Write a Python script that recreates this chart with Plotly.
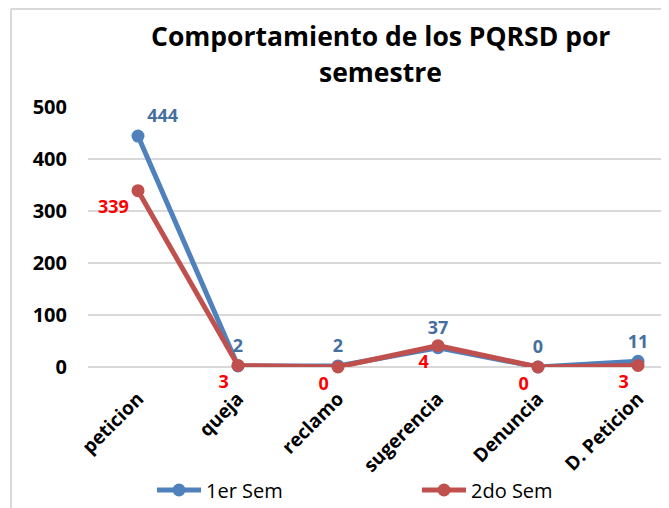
import plotly.graph_objects as go

categories = ["peticion", "queja", "reclamo", "sugerencia", "Denuncia", "D. Peticion"]
sem1_values = [444, 2, 2, 37, 0, 11]
sem2_values = [339, 3, 0, 41, 0, 3]
sem2_labels = ["339", "3", "0", "4", "0", "3"]
y_ticks = [0, 100, 200, 300, 400, 500]

BLUE = "#4F81BD"
RED = "#C0504D"
FONT = "Open Sans"

OFF = 8  # page body margin
W, H = 669 - OFF, 508 - OFF
L, R, T, B = 88 - OFF, 0, 107 - OFF, 141
pw, ph = W - L - R, H - T - B

def px_x(x):
    return (x - OFF - L) / pw

def px_y(y):
    return (H - B - (y - OFF)) / ph

fig = go.Figure()
fig.add_trace(go.Scatter(
    x=categories, y=sem1_values, name="1er Sem", mode="lines+markers+text",
    line=dict(color=BLUE, width=5), marker=dict(size=13, color=BLUE),
    text=[str(v) for v in sem1_values],
    textposition=["top right", "top center", "top center", "top center", "top center", "top center"],
    textfont=dict(family=FONT, size=18, color="#44709F", weight="bold"),
    cliponaxis=False, legend="legend",
))
fig.add_trace(go.Scatter(
    x=categories, y=sem2_values, name="2do Sem", mode="lines+markers+text",
    line=dict(color=RED, width=5), marker=dict(size=13, color=RED),
    text=sem2_labels,
    textposition="bottom left",
    textfont=dict(family=FONT, size=18, color="#FF0000", weight="bold"),
    cliponaxis=False, legend="legend2",
))

leg_common = dict(
    orientation="h", yanchor="middle", xanchor="left", itemwidth=44,
    font=dict(family=FONT, size=20, color="black"),
    bgcolor="rgba(0,0,0,0)",
)

fig.update_layout(
    width=W, height=H,
    margin=dict(l=L, r=R, t=T, b=B, autoexpand=False),
    paper_bgcolor="white", plot_bgcolor="white",
    font=dict(family=FONT, color="black"),
    showlegend=True,
    legend=dict(x=px_x(152), y=px_y(490), **leg_common),
    legend2=dict(x=px_x(417), y=px_y(490), **leg_common),
    annotations=[
        dict(text="<b>Comportamiento de los PQRSD por</b>", x=px_x(380), y=px_y(36),
             xref="paper", yref="paper", showarrow=False, xanchor="center", yanchor="middle",
             font=dict(family=FONT, size=26.5, color="black")),
        dict(text="<b>semestre</b>", x=px_x(380), y=px_y(72),
             xref="paper", yref="paper", showarrow=False, xanchor="center", yanchor="middle",
             font=dict(family=FONT, size=26.5, color="black")),
    ],
    shapes=[
        dict(type="line", xref="paper", yref="paper", x0=px_x(11), x1=px_x(669), y0=px_y(9), y1=px_y(9),
             line=dict(color="#D9D9D9", width=2)),
        dict(type="line", xref="paper", yref="paper", x0=px_x(11), x1=px_x(11), y0=px_y(9), y1=px_y(508),
             line=dict(color="#D9D9D9", width=2)),
    ],
)

fig.update_xaxes(
    type="category", range=[-0.5, 5.31], tickangle=-45, showgrid=False, showline=False,
    ticks="", tickfont=dict(family=FONT, size=19, color="black", weight="bold"),
    ticklabelstandoff=16, automargin=False,
)
fig.update_yaxes(
    range=[0, 500], tickvals=y_ticks, showgrid=True, gridcolor="#D9D9D9", gridwidth=1.5,
    zeroline=True, zerolinecolor="#D9D9D9", zerolinewidth=1.5, showline=False, ticks="",
    tickfont=dict(family=FONT, size=20, color="black", weight="bold"),
    ticklabelstandoff=20, automargin=False,
)

fig.write_html("out.html")
